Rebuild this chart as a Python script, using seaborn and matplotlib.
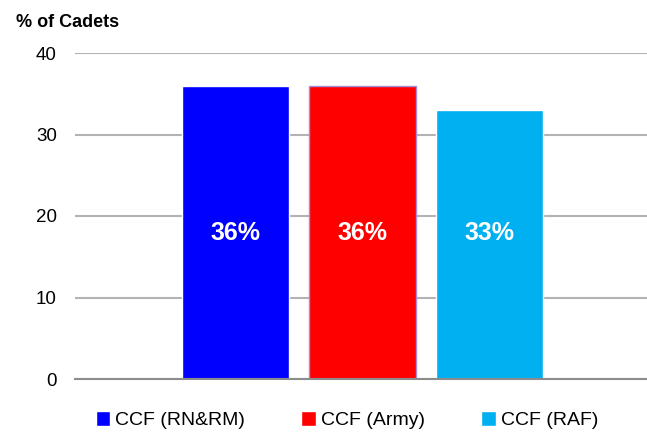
import pandas as pd
import seaborn as sns
import matplotlib.pyplot as plt

units = ['CCF (RN&RM)', 'CCF (Army)', 'CCF (RAF)']
pct_cadets = [36, 36, 33]
bar_colors = ['#0000FF', '#FF0000', '#00B0F0']
y_ticks = [0, 10, 20, 30, 40]

df = pd.DataFrame({'unit': units, 'pct': pct_cadets})

sns.set_style('white')
plt.rcParams['font.family'] = ['Liberation Sans', 'DejaVu Sans']
plt.rcParams['text.color'] = 'black'
plt.rcParams['ytick.color'] = 'black'

fig = plt.figure(figsize=(6.47, 4.32), dpi=100)
ax = fig.add_axes([75 / 647, 53 / 432, 1 - 75 / 647, 326 / 432])

sns.barplot(data=df, x='unit', y='pct', hue='unit', palette=bar_colors,
            width=0.843, saturation=1, ax=ax, legend=True, zorder=3)

# faint outline on the army bar, as in the original
ax.patches[1].set_edgecolor('#A58BE0')
ax.patches[1].set_linewidth(1)

# labels all sit at the same height in the original
for i, v in enumerate(pct_cadets):
    ax.text(i, 17.9, f'{v}%', ha='center', va='center', color='white',
            fontsize=18, fontweight='bold', zorder=4)

ax.set_ylim(0, 40)
ax.set_xlim(-1.264, 3.24)
ax.set_yticks(y_ticks)
ax.set_xticks([])
ax.set_xlabel('')
ax.set_ylabel('')
ax.tick_params(axis='y', length=0, pad=13, labelsize=13.5, labelcolor='black')
ax.grid(axis='y', color='#B3B3B3', linewidth=1.5, zorder=0)
for s in ['left', 'right', 'top']:
    ax.spines[s].set_visible(False)
ax.spines['bottom'].set_color('#8C8C8C')
ax.spines['bottom'].set_linewidth(1.5)
ax.spines['bottom'].set_zorder(5)

sns.move_legend(ax, 'center', bbox_to_anchor=(0.536, 0.027),
                bbox_transform=fig.transFigure, ncol=3, frameon=False,
                title=None, fontsize=14, handlelength=0.75, handleheight=0.75,
                handletextpad=0.25, columnspacing=2.9)

fig.text(16 / 647, 1 - 27 / 432, '% of Cadets', fontsize=13, fontweight='bold',
         ha='left', va='baseline')

fig.savefig('out.png', dpi=100)
